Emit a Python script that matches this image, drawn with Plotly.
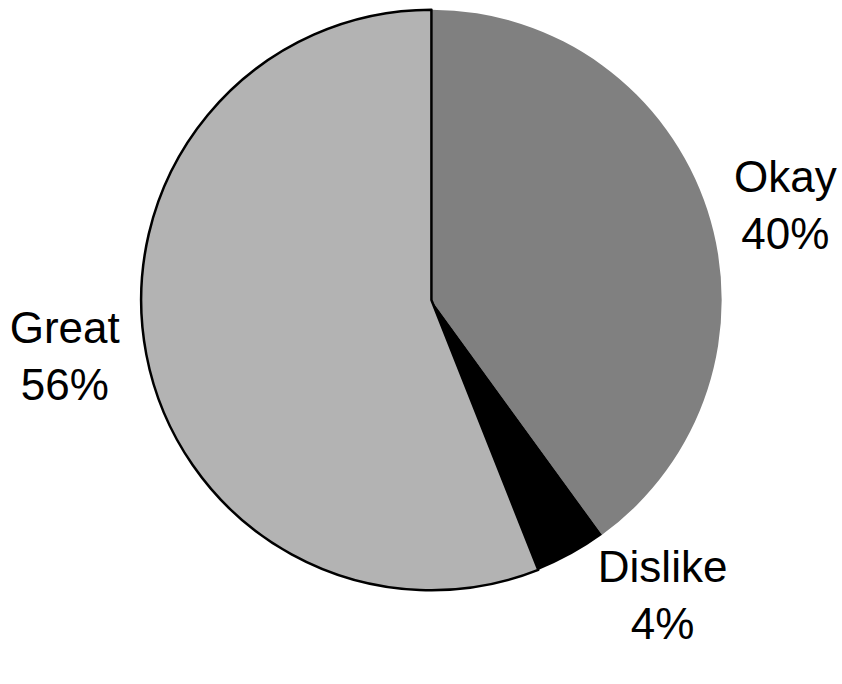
import plotly.graph_objects as go

labels = ["Okay", "Dislike", "Great"]
values = [40, 4, 56]
colors = ["#808080", "#000000", "#b3b3b3"]
line_widths = [0, 0, 2.5]

fig = go.Figure(go.Pie(
    labels=labels,
    values=values,
    sort=False,
    direction="clockwise",
    rotation=0,
    marker=dict(colors=colors, line=dict(color="#000000", width=line_widths)),
    textposition="outside",
    texttemplate="%{label}<br>%{percent:.0%}",
    textfont=dict(family="Liberation Sans, Arial, sans-serif", size=44, color="#000000"),
    domain=dict(x=[142/842, 726/842], y=[1 - 592/684, 1 - 8/684]),
    showlegend=False,
    hoverinfo="label+percent",
))

fig.update_layout(
    width=842, height=684,
    margin=dict(l=0, r=0, t=0, b=0),
    paper_bgcolor="white",
    plot_bgcolor="white",
    showlegend=False,
)

fig.write_html("out.html")
